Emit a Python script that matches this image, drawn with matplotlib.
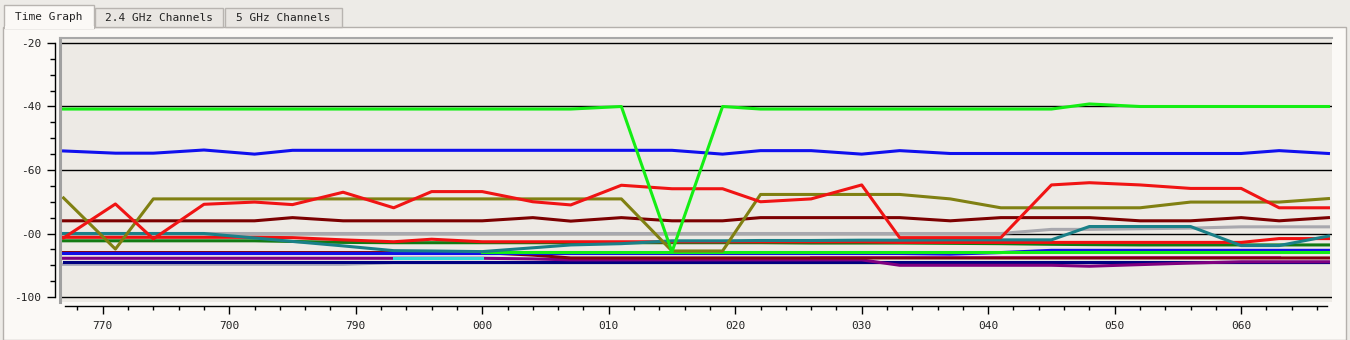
import numpy as np
import matplotlib
matplotlib.use('Agg')
import matplotlib.pyplot as plt
from matplotlib.patches import Rectangle
from matplotlib.ticker import FixedLocator, FixedFormatter, MultipleLocator

# sample times (s) and signal levels (dBm)
t = [766.9, 771, 774, 778, 782, 785, 789, 793, 796, 800, 804, 807, 811, 815,
     819, 822, 826, 830, 833, 837, 841, 845, 848, 852, 856, 860, 863, 866.9]
nan = np.nan

green1 = [-40.8]*12 + [-40, -85.8, -40] + [-40.8]*7 + [-39.2] + [-40]*5
blue1 = [-54, -54.7, -54.7, -53.7, -55, -53.8, -53.8, -53.8, -53.8, -53.8, -53.8, -53.8, -53.8, -53.8,
         -55, -53.9, -53.9, -55, -53.9, -54.8, -54.8, -54.8, -54.8, -54.8, -54.8, -54.8, -53.9, -54.8]
red1 = [-81.4, -70.7, -81.7, -70.8, -70.1, -70.9, -67, -71.9, -66.8, -66.8, -70, -71, -64.8, -65.9,
        -65.9, -70, -69.1, -64.7, -81.3, -81.3, -81.3, -64.7, -64, -64.7, -65.8, -65.8, -71.9, -71.9]
olive = [-68.8, -84.9, -69.1, -69.1, -69.1, -69.1, -69.1, -69.1, -69.1, -69.1, -69.1, -69.1, -69.1, -85.5,
         -85.5, -67.7, -67.7, -67.7, -67.7, -69.1, -71.9, -71.9, -71.9, -71.9, -70.1, -70.1, -70.1, -69]
darkred = [-76, -76, -76, -76, -76, -75, -76, -76, -76, -76, -75, -76.1, -75, -76,
           -76, -75, -75, -75, -75, -76, -75, -75, -75, -76, -76, -75, -76, -75]
gray1 = [-80]*21 + [-78.7, -78.7, -78.5, -78.3, -77.9, -77.9, -77.9]
teal = [-80, -80, -80, -80, -81.4, -82.5, -83.9, -85.4, -85.5, -85.7, -84.5, -83.6, -83.2, -82.3,
        -82.3, -82.2, -82.2, -82.1, -82.1, -82, -82, -82, -77.8, -77.8, -77.8, -83.8, -83.8, -80.8]
red2 = [-81.2, -81.2, -81.2, -81.2, -81.2, -81.3, -82, -82.6, -81.8, -82.6, -82.6, -82.6, -82.6, -82.6,
        -82.6, -82.6, -82.6, -82.6, -82.8, -82.8, -82.8, -82.8, -82.8, -82.8, -82.8, -82.8, -81.6, -81.6]
darkgreen = [-82.3, -82.3, -82.3, -82.3, -82.3, -82.5, -82.8, -82.9, -82.9, -82.9, -82.9, -82.9, -82.9, -82.9,
             -82.9, -82.9, -83, -83, -83, -83.1, -83.2, -83.4, -83.5, -83.6, -83.6, -83.6, -83.6, -83.6]
lime2 = [nan]*9 + [-85.9]*19
blue2 = [-86.3]*19 + [-86.5, -86, -85.3, -85.3, -85.3, -85.3, -85.3, -85.3, -85.3]
maroon2 = [-86]*10 + [-86.8] + [-87.7]*17
purple = [-87.8]*10 + [-88, -88.3, -88.3, -88.3, -88.3, -88.3, -88.3, -88.3, -90, -90, -90, -90, -90.3,
                       -89.8, -89.3, -88.9, -88.9, -88.9]
magenta = [nan]*16 + [-87.3]*11 + [nan]
cyan = [nan]*7 + [-87.8, -87.8, -87.8] + [nan]*18
navy = [-88.9]*28
gray2 = [-89.7]*7 + [-89.2]*21

series = [
    (gray2, '#a4a4b8'), (navy, '#000080'), (purple, '#800080'), (magenta, '#e040e0'),
    (cyan, '#30d8d8'), (maroon2, '#800010'), (blue2, '#1010e8'), (lime2, '#14ee14'),
    (darkgreen, '#127a12'), (red2, '#f01010'), (gray1, '#a8a8ae'), (teal, '#1a8088'),
    (darkred, '#7c0000'), (olive, '#808012'), (red1, '#f01414'), (blue1, '#1010ee'),
    (green1, '#14ee14'),
]

y_ticks = [-100, -80, -60, -40, -20]
y_labels = ['-100', '-00', '-60', '-40', '-20']
x_ticks = [770, 780, 790, 800, 810, 820, 830, 840, 850, 860]
x_labels = ['770', '700', '790', '000', '010', '020', '030', '040', '050', '060']
xlim = (766.62, 867.18)
ylim = (-101.57, -18.27)

W, H = 1350, 340
def fx(p): return p / W
def fy(p): return 1 - p / H

fig = plt.figure(figsize=(13.5, 3.4), dpi=100)
fig.patch.set_facecolor('#edebe7')
mono = 'DejaVu Sans Mono'

# window panel and tabs
fig.add_artist(Rectangle((fx(3), fy(340)), (1346 - 3) / W, (340 - 27) / H, transform=fig.transFigure,
                         facecolor='#fbf9f6', edgecolor='#b4b0ac', lw=1, zorder=-10))
for x0, x1, y0, label, fc in [(95, 223, 8, '2.4 GHz Channels', '#e9e6e2'),
                              (225, 342, 8, '5 GHz Channels', '#e9e6e2')]:
    fig.add_artist(Rectangle((fx(x0), fy(27)), (x1 - x0) / W, (27 - y0) / H, transform=fig.transFigure,
                             facecolor=fc, edgecolor='#b8b4b0', lw=1, zorder=-9))
    fig.text(fx((x0 + x1) / 2), fy(18), label, ha='center', va='center', family=mono, fontsize=8, color='#222222')
fig.add_artist(Rectangle((fx(4), fy(28)), (94 - 4) / W, (28 - 5) / H, transform=fig.transFigure,
                         facecolor='#fbf9f6', edgecolor='#b8b4b0', lw=1, zorder=-9))
fig.add_artist(Rectangle((fx(4.8), fy(29)), (93.5 - 4.8) / W, 3 / H, transform=fig.transFigure,
                         facecolor='#fbf9f6', edgecolor='none', zorder=-8))
fig.text(fx(49), fy(17), 'Time Graph', ha='center', va='center', family=mono, fontsize=8, color='#222222')

# plot area
ax = fig.add_axes([fx(60), fy(302), (1332 - 60) / W, (302 - 37.5) / H])
ax.set_facecolor('#edeae5')
for s in ['right', 'bottom']:
    ax.spines[s].set_visible(False)
ax.spines['left'].set_color('#a0a0a0')
ax.spines['left'].set_linewidth(2.2)
ax.spines['top'].set_color('#a8a8a8')
ax.spines['top'].set_linewidth(1.5)
ax.set_xlim(*xlim)
ax.set_ylim(*ylim)
ax.set_yticks(y_ticks)
ax.set_xticks([])
ax.tick_params(axis='y', length=0, labelleft=False)
ax.grid(axis='y', color='black', lw=1)
ax.set_axisbelow(True)

for vals, c in series:
    ax.plot(t, vals, color=c, lw=2.2, solid_joinstyle='round')

# y axis drawn apart from the plot
ya = fig.add_axes([fx(54.5), fy(302), 0.5 / W, (302 - 37.5) / H])
ya.set_ylim(*ylim)
ya.patch.set_visible(False)
for s in ['right', 'top', 'bottom']:
    ya.spines[s].set_visible(False)
ya.spines['left'].set_bounds(-100, -20)
ya.spines['left'].set_linewidth(1)
ya.xaxis.set_visible(False)
ya.yaxis.set_major_locator(FixedLocator(y_ticks))
ya.yaxis.set_major_formatter(FixedFormatter(y_labels))
ya.yaxis.set_minor_locator(MultipleLocator(5))
ya.tick_params(axis='y', which='major', length=5.8, width=1, pad=4, labelsize=8)
ya.tick_params(axis='y', which='minor', length=3.5, width=1)
for lb in ya.get_yticklabels():
    lb.set_family(mono)
    lb.set_color('#222222')

# x axis
xa = fig.add_axes([fx(60), fy(306), (1332 - 60) / W, 0.5 / H])
xa.set_xlim(*xlim)
xa.patch.set_visible(False)
for s in ['right', 'top', 'left']:
    xa.spines[s].set_visible(False)
xa.spines['bottom'].set_bounds(767.0, 866.8)
xa.spines['bottom'].set_linewidth(1)
xa.yaxis.set_visible(False)
xa.xaxis.set_major_locator(FixedLocator(x_ticks))
xa.xaxis.set_major_formatter(FixedFormatter(x_labels))
xa.xaxis.set_minor_locator(MultipleLocator(2))
xa.tick_params(axis='x', which='major', length=5.8, width=1, pad=5, labelsize=8)
xa.tick_params(axis='x', which='minor', length=3, width=1)
for lb in xa.get_xticklabels():
    lb.set_family(mono)
    lb.set_color('#222222')

fig.savefig('out.png', dpi=100, facecolor=fig.get_facecolor())
